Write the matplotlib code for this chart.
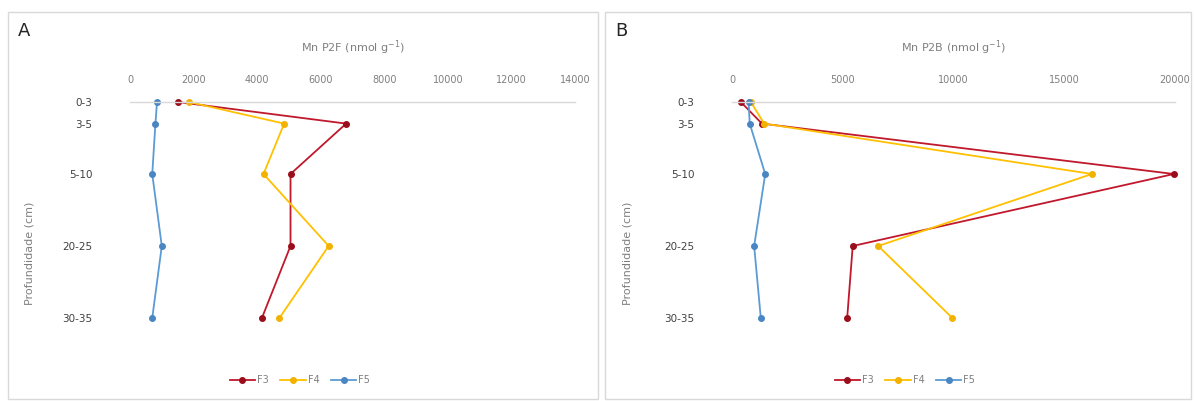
import matplotlib.pyplot as plt
from matplotlib.patches import Rectangle

# depth classes (cm) and their position on the depth axis
depth_labels = ['0-3', '3-5', '5-10', '20-25', '30-35']
depth_pos = [0, 3, 10, 20, 30]
series_names = ['F3', 'F4', 'F5']

# Mn P2F (nmol g-1)
p2f_f3 = [1500, 6800, 5050, 5050, 4150]
p2f_f4 = [1850, 4850, 4200, 6250, 4700]
p2f_f5 = [850, 800, 700, 1000, 700]

# Mn P2B (nmol g-1)
p2b_f3 = [400, 1350, 19950, 5450, 5200]
p2b_f4 = [850, 1450, 16250, 6600, 9950]
p2b_f5 = [750, 800, 1500, 1000, 1300]

line_colors = ['#C0182C', '#FFC000', '#5B9BD5']
marker_colors = ['#9A0E1C', '#F2B200', '#4A86C2']

W, H = 1195, 401
fig = plt.figure(figsize=(W / 100, H / 100), dpi=100)


def px_axes(x0, x1, y0, y1):
    return fig.add_axes([x0 / W, 1 - y1 / H, (x1 - x0) / W, (y1 - y0) / H])


def panel(box, ax_px, letter, title, xmax, xstep, data, legend_x):
    bx0, bx1 = box
    fig.patches.append(Rectangle((bx0 / W, 1 - 399 / H), (bx1 - bx0) / W, 387 / H,
                                 transform=fig.transFigure, fill=False,
                                 edgecolor='#D9D9D9', lw=1))
    fig.text((bx0 + 10) / W, 1 - 31 / H, letter, fontsize=13, color='#262626',
             va='center', ha='left')

    ax = px_axes(ax_px[0], ax_px[1], 102, 318)
    for vals, lc, mc, name in zip(data, line_colors, marker_colors, series_names):
        ax.plot(vals, depth_pos, color=lc, lw=1.3, marker='o', markersize=4,
                markerfacecolor=mc, markeredgecolor=mc, label=name, clip_on=False)
    ax.set_xlim(0, xmax)
    ax.set_ylim(30, 0)
    ax.xaxis.tick_top()
    ax.set_xticks(range(0, xmax + 1, xstep))
    ax.set_yticks(depth_pos)
    ax.set_yticklabels(depth_labels)
    ax.tick_params(axis='x', length=0, pad=12, labelsize=7, labelcolor='#7F7F7F')
    ax.tick_params(axis='y', length=0, pad=27, labelsize=7.5, labelcolor='#404040')
    for s in ['left', 'right', 'bottom']:
        ax.spines[s].set_visible(False)
    ax.spines['top'].set_color('#D9D9D9')
    ax.spines['top'].set_linewidth(1)
    ax.patch.set_alpha(0)

    cx = (ax_px[0] + ax_px[1]) / 2
    fig.text(cx / W, 1 - 48 / H, title, fontsize=8, color='#7F7F7F', ha='center', va='center')
    fig.text((bx0 + 22) / W, 1 - 253 / H, 'Profundidade (cm)', fontsize=8, color='#7F7F7F',
             rotation=90, ha='center', va='center')
    ax.legend(loc='center', bbox_to_anchor=(legend_x / W, 1 - 380 / H),
              bbox_transform=fig.transFigure, ncol=3, frameon=False, fontsize=7,
              handlelength=2.6, columnspacing=1.2, handletextpad=0.2,
              labelcolor='#7F7F7F')


panel((8, 598), (130, 575), 'A', 'Mn P2F (nmol g$^{-1}$)', 14000, 2000,
      [p2f_f3, p2f_f4, p2f_f5], 300)
panel((605, 1191), (732, 1175), 'B', 'Mn P2B (nmol g$^{-1}$)', 20000, 5000,
      [p2b_f3, p2b_f4, p2b_f5], 905)

fig.savefig('out.png', dpi=100)
